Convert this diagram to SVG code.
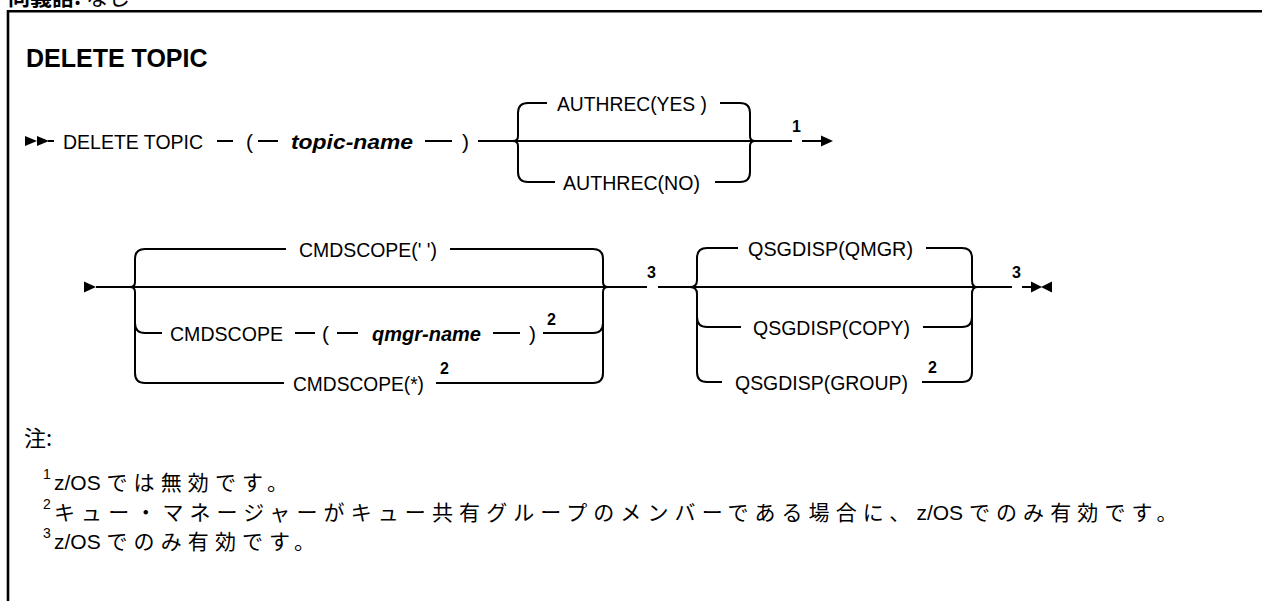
<svg xmlns="http://www.w3.org/2000/svg" width="1262" height="601" viewBox="0 0 1262 601">
<style>
.t{font-family:"Liberation Sans",Arial,sans-serif;font-size:21px;fill:#000}
.v{font-family:"Liberation Sans",Arial,sans-serif;font-size:21px;font-style:italic;font-weight:bold;fill:#000}
.s{font-family:"Liberation Sans",Arial,sans-serif;font-size:16px;font-weight:bold;fill:#000}
.h{font-family:"Liberation Sans",Arial,sans-serif;font-size:25px;font-weight:bold;fill:#000}
.j{font-family:"Liberation Sans","Noto Sans CJK JP",sans-serif;font-size:21px;fill:#000}
.k{font-family:"Noto Sans CJK JP",sans-serif;font-size:21px;letter-spacing:6.1px}
.n{font-family:"Liberation Sans",sans-serif;font-size:14px;fill:#000}
.c path{fill:none;stroke:#000;stroke-width:2}
.a{fill:#000}
</style>
<rect width="1262" height="601" fill="#fff"/>
<g id="frame">
<text x="8" y="5" style="font-family:'Noto Sans CJK JP',sans-serif;font-size:22px;fill:#000"><tspan font-weight="bold">同義語:</tspan> なし</text>
<path d="M8 601 V11.3 H1262" fill="none" stroke="#000" stroke-width="2.6"/>
</g>
<g id="title"><text class="h" x="26" y="67">DELETE TOPIC</text></g>

<g class="c" id="connectors">
<!-- row 1 -->
<path d="M48 141 H54"/>
<path d="M217 141 H233"/>
<path d="M258 141 H278"/>
<path d="M425 141 H452"/>
<path d="M478 141 H792"/>
<path d="M802 141 H823"/>
<path d="M513 141 Q518 141 518 136 V113 Q518 103 528 103 H547"/>
<path d="M513 141 Q518 141 518 146 V172 Q518 182 528 182 H555"/>
<path d="M720 103 H740 Q750 103 750 113 V136 Q750 141 755 141"/>
<path d="M715 182 H740 Q750 182 750 172 V146 Q750 141 755 141"/>
<!-- row 2 -->
<path d="M96 287 H647"/>
<path d="M130 287 Q135 287 135 282 V259 Q135 249 145 249 H286"/>
<path d="M130 287 Q135 287 135 292 V373 Q135 383 145 383 H284"/>
<path d="M135 323 Q135 333 145 333 H162"/>
<path d="M295 333 H315"/>
<path d="M337 333 H358"/>
<path d="M493 333 H520"/>
<path d="M543 333 H593 Q603 333 603 323"/>
<path d="M450 249 H593 Q603 249 603 259 V282 Q603 287 608 287"/>
<path d="M436 383 H593 Q603 383 603 373 V292 Q603 287 608 287"/>
<path d="M658 287 H1012"/>
<path d="M690 287 Q697 287 697 280 V258 Q697 248 707 248 H738"/>
<path d="M690 287 Q697 287 697 294 V372 Q697 382 707 382 H722"/>
<path d="M697 317 Q697 327 707 327 H741"/>
<path d="M926 248 H962 Q972 248 972 258 V280 Q972 287 977 287"/>
<path d="M923 327 H962 Q972 327 972 317"/>
<path d="M922 382 H962 Q972 382 972 372 V294 Q972 287 977 287"/>
<path d="M1022 287 H1032"/>
<polygon class="a" points="25,136 37,141 25,146"/>
<polygon class="a" points="37,136 49,141 37,146"/>
<polygon class="a" points="821,135.5 833,141 821,146.5"/>
<polygon class="a" points="84,281.5 96,287 84,292.5"/>
<polygon class="a" points="1031,281.5 1042,287 1031,292.5"/>
<polygon class="a" points="1052,281.5 1041,287 1052,292.5"/>
</g>

<g id="n-delete-topic"><text class="t" x="63" y="148.5" textLength="140" lengthAdjust="spacingAndGlyphs">DELETE TOPIC</text></g>
<g id="n-lparen1"><text class="t" x="246" y="148.5">(</text></g>
<g id="n-topic-name"><text class="v" x="291" y="148.5" textLength="122" lengthAdjust="spacingAndGlyphs">topic-name</text></g>
<g id="n-rparen1"><text class="t" x="462" y="148.5">)</text></g>
<g id="n-authrec-yes"><text class="t" x="557" y="110.5" textLength="150" lengthAdjust="spacingAndGlyphs">AUTHREC(YES )</text></g>
<g id="n-authrec-no"><text class="t" x="563" y="189.5" textLength="137" lengthAdjust="spacingAndGlyphs">AUTHREC(NO)</text></g>
<g id="n-note1"><text class="s" x="792" y="132">1</text></g>

<g id="n-cmdscope-blank"><text class="t" x="299" y="256.5" textLength="138" lengthAdjust="spacingAndGlyphs">CMDSCOPE(' ')</text></g>
<g id="n-cmdscope"><text class="t" x="170" y="340.5" textLength="113" lengthAdjust="spacingAndGlyphs">CMDSCOPE</text></g>
<g id="n-lparen2"><text class="t" x="322" y="340.5">(</text></g>
<g id="n-qmgr-name"><text class="v" x="372" y="340.5" textLength="109" lengthAdjust="spacingAndGlyphs">qmgr-name</text></g>
<g id="n-rparen2"><text class="t" x="529" y="340.5">)</text></g>
<g id="n-note2a"><text class="s" x="547" y="325">2</text></g>
<g id="n-cmdscope-star"><text class="t" x="293" y="390.5" textLength="131" lengthAdjust="spacingAndGlyphs">CMDSCOPE(*)</text></g>
<g id="n-note2b"><text class="s" x="440" y="374">2</text></g>
<g id="n-note3a"><text class="s" x="647" y="278">3</text></g>
<g id="n-qsgdisp-qmgr"><text class="t" x="748" y="255.5" textLength="165" lengthAdjust="spacingAndGlyphs">QSGDISP(QMGR)</text></g>
<g id="n-qsgdisp-copy"><text class="t" x="753" y="334.5" textLength="157" lengthAdjust="spacingAndGlyphs">QSGDISP(COPY)</text></g>
<g id="n-qsgdisp-group"><text class="t" x="735" y="389.5" textLength="173" lengthAdjust="spacingAndGlyphs">QSGDISP(GROUP)</text></g>
<g id="n-note2c"><text class="s" x="928" y="373">2</text></g>
<g id="n-note3b"><text class="s" x="1012" y="278">3</text></g>

<g id="notes">
<text class="j" x="24" y="446" style="font-family:'Noto Sans CJK JP',sans-serif;font-size:22px">注:</text>
<text class="n" x="43" y="479">1</text>
<text class="j" x="54" y="490">z/OS <tspan class="k">では無効です。</tspan></text>
<text class="n" x="43" y="509">2</text>
<text class="j" x="54" y="520"><tspan class="k">キュー・マネージャーがキュー共有グループのメンバーである場合に、</tspan>z/OS <tspan class="k">でのみ有効です。</tspan></text>
<text class="n" x="43" y="538">3</text>
<text class="j" x="54" y="549">z/OS <tspan class="k">でのみ有効です。</tspan></text>
</g>
</svg>
